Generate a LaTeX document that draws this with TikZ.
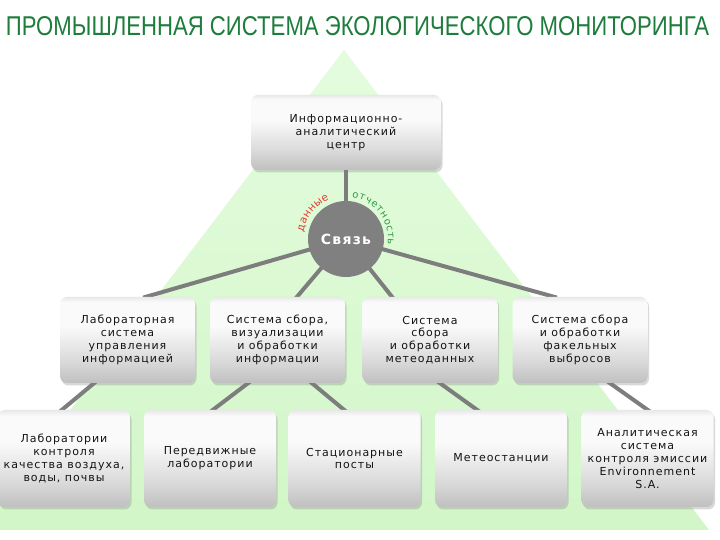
\documentclass[tikz,border=0pt]{standalone}
\usepackage{graphicx}
\usepackage{fontspec}
\setmainfont{DejaVu Sans}
\newfontfamily\boxfont[LetterSpace=9]{DejaVu Sans}
\newfontfamily\titlefont{Liberation Sans}
\usetikzlibrary{shadows,decorations.text,calc}
\definecolor{titlegreen}{RGB}{30,125,60}
\definecolor{trTop}{RGB}{228,252,222}
\definecolor{trBot}{RGB}{210,246,200}
\definecolor{linkc}{RGB}{125,125,125}
\definecolor{hubc}{RGB}{128,128,128}
\definecolor{txtc}{RGB}{20,20,20}
\definecolor{lblred}{RGB}{230,60,50}
\definecolor{lblgreen}{RGB}{50,155,70}
\definecolor{bxB}{RGB}{192,192,192}
\definecolor{bxM}{RGB}{218,218,218}
\definecolor{bxW}{RGB}{250,250,250}
\definecolor{bxT}{RGB}{232,232,232}
\pgfdeclareverticalshading{boxsh}{100bp}{color(0bp)=(bxB); color(25bp)=(bxB); color(38bp)=(bxM); color(58bp)=(bxW); color(72bp)=(bxW); color(75bp)=(bxT); color(100bp)=(bxT)}
\pgfdeclarelayer{back}
\pgfdeclarelayer{links}
\pgfsetlayers{back,links,main}
\newcommand\lblfont{\fontsize{10.5}{12}\selectfont}
\newcommand\lblfontb{\fontsize{10}{12}\selectfont}
\begin{document}
\begin{tikzpicture}[x=1pt,y=1pt,
  box/.style={rounded corners=7pt, shade, shading=boxsh,
    drop shadow={shadow xshift=1.5pt, shadow yshift=-2.5pt, opacity=0.3},
    minimum height=86pt, minimum width=135pt, inner sep=2pt, align=center,
    font=\boxfont\fontsize{11}{12.8}\selectfont, text=txtc},
  lowbox/.style={box, minimum width=132pt, minimum height=97pt},
  hub/.style={circle, fill=hubc, minimum size=76pt, inner sep=0pt, text=white,
    font=\boxfont\bfseries\fontsize{14}{16}\selectfont},
  link/.style={line width=4pt, draw=linkc, shorten >=-3pt, shorten <=-3pt}
]
\useasboundingbox (0,0) rectangle (720,540);
\begin{pgfonlayer}{back}
\fill[white] (0,0) rectangle (720,540);
\shade[top color=trTop, bottom color=trBot] (344,490) -- (709,10) -- (0,10) -- (0,37.7) -- cycle;
\end{pgfonlayer}

\node[inner sep=0pt, text=titlegreen] (title) at (357.5,514)
  {\resizebox{703pt}{19pt}{\titlefont ПРОМЫШЛЕННАЯ СИСТЕМА ЭКОЛОГИЧЕСКОГО МОНИТОРИНГА}};

\node[box, minimum width=190pt, minimum height=75pt] (top) at (346,407.5)
  {Информационно-\\аналитический\\центр};
\node[hub] (c) at (346,301) {Связь};

\node[box] (m1) at (127.5,200) {Лабораторная\\система\\управления\\информацией};
\node[box] (m2) at (277.5,200) {Система сбора,\\визуализации\\и обработки\\информации};
\node[box] (m3) at (430,200) {Система\\сбора\\и обработки\\метеоданных};
\node[box] (m4) at (580,200) {Система сбора\\и обработки\\факельных\\выбросов};

\node[lowbox] (b1) at (64,81.5) {Лаборатории\\контроля\\качества воздуха,\\воды, почвы};
\node[lowbox] (b2) at (210,81.5) {Передвижные\\лаборатории};
\node[lowbox] (b3) at (354.5,81.5) {Стационарные\\посты};
\node[lowbox] (b4) at (501,81.5) {Метеостанции};
\node[lowbox] (b5) at (647.5,81.5) {Аналитическая\\система\\контроля эмиссии\\Environnement\\S.A.};

\begin{pgfonlayer}{links}
\draw[link] (top.center) -- (c.center);
\draw[link] (c.center) -- ([xshift=18.5pt]m1.north);
\draw[link] (c.center) -- ([xshift=19.5pt]m2.north);
\draw[link] (c.center) -- ([xshift=-38pt]m3.north);
\draw[link] (c.center) -- ([xshift=-26pt]m4.north);
\draw[link] ([xshift=-33.5pt]m1.south) -- ([xshift=-2pt]b1.north);
\draw[link] ([xshift=-29.5pt]m2.south) -- ([xshift=3pt]b2.north);
\draw[link] ([xshift=34.5pt]m2.south) -- ([xshift=-10.5pt]b3.north);
\draw[link] ([xshift=10pt]m3.south) -- ([xshift=-24pt]b4.north);
\draw[link] ([xshift=30pt]m4.south) -- (b5.north);
\end{pgfonlayer}

\path[decorate, decoration={text along path, text={|\lblfont|данные}, text align=fit to path, text color=lblred}]
  ($(c.center)+(171:43pt)$) arc[start angle=171, end angle=113, radius=43pt];
\path[decorate, decoration={text along path, text={|\lblfontb|отчетность}, text align=fit to path, text color=lblgreen}]
  ($(c.center)+(82:42pt)$) arc[start angle=82, end angle=-8, radius=42pt];
\end{tikzpicture}
\end{document}
